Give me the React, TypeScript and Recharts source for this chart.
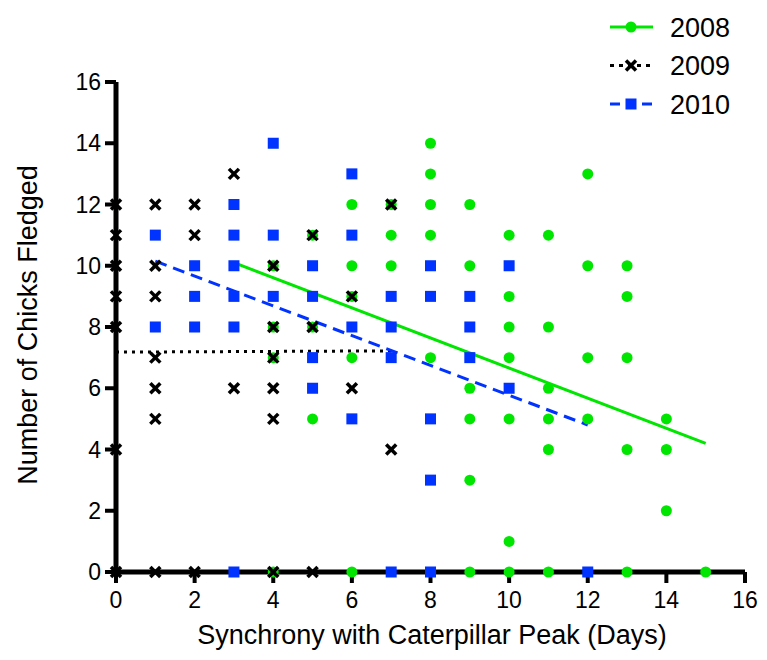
import React from "react";
import {
	ReferenceLine,
	Scatter,
	ScatterChart,
	XAxis,
	YAxis,
} from "recharts";

// Colours
const GREEN = "#00e600";
const BLUE = "#0033ff";
const BLACK = "#000000";
const FONT = '"Liberation Sans", Arial, sans-serif';

// 2008 (green circles)
const days2008 = [4, 4, 4, 4, 5, 5, 5, 6, 6, 6, 6, 6, 7, 7, 7, 8, 8, 8, 8, 8, 9, 9, 9, 9, 9, 9, 10, 10, 10, 10, 10, 10, 10, 11, 11, 11, 11, 11, 11, 12, 12, 12, 12, 13, 13, 13, 13, 13, 14, 14, 14, 15];
const chicks2008 = [10, 8, 7, 0, 11, 8, 5, 12, 10, 9, 7, 0, 12, 11, 10, 14, 13, 12, 11, 7, 12, 10, 6, 5, 3, 0, 11, 9, 8, 7, 5, 1, 0, 11, 8, 6, 5, 4, 0, 13, 10, 7, 5, 10, 9, 7, 4, 0, 5, 4, 2, 0];

// 2009 (black crosses)
const days2009 = [0, 0, 0, 0, 0, 0, 0, 1, 1, 1, 1, 1, 1, 1, 2, 2, 2, 3, 3, 4, 4, 4, 4, 4, 4, 5, 5, 5, 6, 6, 7, 7];
const chicks2009 = [12, 11, 10, 9, 8, 4, 0, 12, 10, 9, 7, 6, 5, 0, 12, 11, 0, 13, 6, 10, 8, 7, 6, 5, 0, 11, 8, 0, 9, 6, 12, 4];

// 2010 (blue squares)
const days2010 = [1, 1, 2, 2, 2, 3, 3, 3, 3, 3, 3, 4, 4, 4, 5, 5, 5, 5, 6, 6, 6, 6, 7, 7, 7, 7, 8, 8, 8, 8, 8, 9, 9, 9, 10, 10, 12];
const chicks2010 = [11, 8, 10, 9, 8, 12, 11, 10, 9, 8, 0, 14, 11, 9, 10, 9, 7, 6, 13, 11, 8, 5, 9, 8, 7, 0, 10, 9, 5, 3, 0, 9, 8, 7, 10, 6, 0];

// regression lines: [start x, start y, end x, end y]
const fit2008 = [3, 10.1, 15, 4.2];
const fit2009 = [0, 7.18, 7, 7.22];
const fit2010 = [1, 10.15, 12, 4.8];

const ticks = [0, 2, 4, 6, 8, 10, 12, 14, 16];

const toPoints = (xs: number[], ys: number[]) =>
	xs.map((x, i) => ({ x, y: ys[i] }));

const toSegment = (f: number[]) => [
	{ x: f[0], y: f[1] },
	{ x: f[2], y: f[3] },
];

const Dot = (p: any) => (
	<circle cx={p.cx} cy={p.cy} r={5.5} fill={GREEN} />
);

const Square = (p: any) => (
	<rect x={p.cx - 5.5} y={p.cy - 5.5} width={11} height={11} fill={BLUE} />
);

const Cross = (p: any) => (
	<g stroke={BLACK} strokeWidth={3.5}>
		<line x1={p.cx - 5} y1={p.cy - 5} x2={p.cx + 5} y2={p.cy + 5} />
		<line x1={p.cx - 5} y1={p.cy + 5} x2={p.cx + 5} y2={p.cy - 5} />
	</g>
);

const legendRows = [
	{ name: "2008", color: GREEN, dash: undefined, marker: "circle" },
	{ name: "2009", color: BLACK, dash: "4 5", marker: "cross" },
	{ name: "2010", color: BLUE, dash: "10 6", marker: "square" },
];

// legend drawn as a small svg over the top-right corner
const LegendBox = () => (
	<svg
		width={160}
		height={120}
		style={{ position: "absolute", top: 0, left: 600 }}
	>
		{legendRows.map((r, i) => {
			const cy = 27 + i * 38.5;
			return (
				<g key={r.name}>
					<line
						x1={10}
						x2={53}
						y1={cy}
						y2={cy}
						stroke={r.color}
						strokeWidth={3}
						strokeDasharray={r.dash}
					/>
					{r.marker === "circle" && <Dot cx={31} cy={cy} />}
					{r.marker === "cross" && <Cross cx={31} cy={cy} />}
					{r.marker === "square" && <Square cx={31} cy={cy} />}
					<text
						x={70}
						y={cy + 9.5}
						fontSize={27}
						fontFamily={FONT}
						fill={BLACK}
					>
						{r.name}
					</text>
				</g>
			);
		})}
	</svg>
);

const tickStyle = { fill: BLACK, fontSize: 23, fontFamily: FONT };

export default function App() {
	return (
		<div
			style={{
				position: "absolute",
				left: 0,
				top: 0,
				width: 767,
				height: 660,
				background: "#fff",
			}}
		>
			<ScatterChart
				width={767}
				height={660}
				margin={{ top: 82, right: 22, bottom: 0, left: 0 }}
			>
				<XAxis
					type="number"
					dataKey="x"
					domain={[0, 16]}
					ticks={ticks}
					interval={0}
					height={88}
					tickSize={11}
					tickMargin={9}
					axisLine={{ stroke: BLACK, strokeWidth: 5 }}
					tickLine={{ stroke: BLACK, strokeWidth: 4 }}
					tick={tickStyle}
					label={{
						value: "Synchrony with Caterpillar Peak (Days)",
						content: () => (
							<text
								x={432}
								y={644}
								textAnchor="middle"
								fontSize={27}
								fontFamily={FONT}
								fill={BLACK}
							>
								Synchrony with Caterpillar Peak (Days)
							</text>
						),
					}}
				/>
				<YAxis
					type="number"
					dataKey="y"
					domain={[0, 16]}
					ticks={ticks}
					interval={0}
					width={116}
					tickSize={11}
					tickMargin={4}
					axisLine={{ stroke: BLACK, strokeWidth: 5 }}
					tickLine={{ stroke: BLACK, strokeWidth: 4 }}
					tick={tickStyle}
					label={{
						value: "Number of Chicks Fledged",
						content: () => (
							<text
								x={37}
								y={325}
								transform="rotate(-90, 37, 325)"
								textAnchor="middle"
								fontSize={27}
								fontFamily={FONT}
								fill={BLACK}
							>
								Number of Chicks Fledged
							</text>
						),
					}}
				/>
				<Scatter
					name="2008"
					data={toPoints(days2008, chicks2008)}
					shape={Dot}
					isAnimationActive={false}
				/>
				<Scatter
					name="2009"
					data={toPoints(days2009, chicks2009)}
					shape={Cross}
					isAnimationActive={false}
				/>
				<Scatter
					name="2010"
					data={toPoints(days2010, chicks2010)}
					shape={Square}
					isAnimationActive={false}
				/>
				<ReferenceLine
					segment={toSegment(fit2009)}
					stroke={BLACK}
					strokeWidth={3}
					strokeDasharray="3 5"
					ifOverflow="visible"
				/>
				<ReferenceLine
					segment={toSegment(fit2010)}
					stroke={BLUE}
					strokeWidth={3}
					strokeDasharray="12 7"
					ifOverflow="visible"
				/>
				<ReferenceLine
					segment={toSegment(fit2008)}
					stroke={GREEN}
					strokeWidth={3}
					ifOverflow="visible"
				/>
			</ScatterChart>
			<LegendBox />
		</div>
	);
}
